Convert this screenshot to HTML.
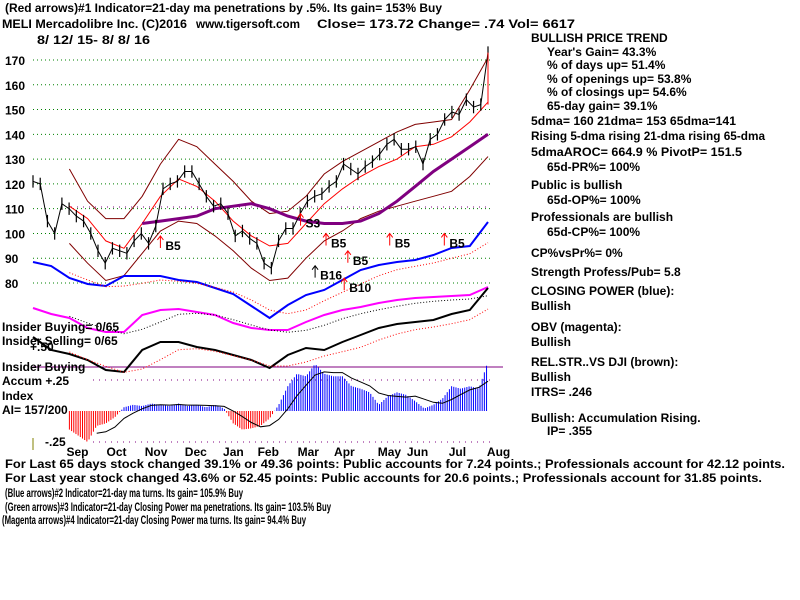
<!DOCTYPE html>
<html><head><meta charset="utf-8"><style>
html,body{margin:0;padding:0;background:#fff;width:800px;height:600px;overflow:hidden}
svg{display:block}
text{font-family:"Liberation Sans",sans-serif;font-weight:bold;font-size:12px;fill:#000}
</style></head><body>
<svg id="chart" width="800" height="600">
<g id="header">
<text x="5" y="12" textLength="437" lengthAdjust="spacingAndGlyphs">(Red arrows)#1 Indicator=21-day ma penetrations by .5%. Its gain= 153% Buy</text>
<text x="2" y="28" textLength="185" lengthAdjust="spacingAndGlyphs">MELI   Mercadolibre Inc.  (C)2016</text>
<text x="196" y="28" textLength="104" lengthAdjust="spacingAndGlyphs">www.tigersoft.com</text>
<text x="317" y="28" textLength="258" lengthAdjust="spacingAndGlyphs">Close=  173.72  Change= .74 Vol= 6617</text>
<text x="37" y="44" textLength="113" lengthAdjust="spacingAndGlyphs">8/ 12/ 15- 8/ 8/ 16</text>
</g>
<g id="grid"></g>
<g id="plot"></g>
<g id="side">
<text x="531" y="42">BULLISH PRICE TREND</text>
<text x="547" y="56">Year's Gain= 43.3%</text>
<text x="547" y="69">% of days up= 51.4%</text>
<text x="547" y="83">% of openings up= 53.8%</text>
<text x="547" y="96">% of closings up= 54.6%</text>
<text x="547" y="110">65-day gain= 39.1%</text>
<text x="531" y="125" textLength="205" lengthAdjust="spacingAndGlyphs">5dma= 160 21dma= 153 65dma=141</text>
<text x="531" y="140" textLength="234" lengthAdjust="spacingAndGlyphs">Rising 5-dma rising 21-dma rising 65-dma</text>
<text x="531" y="156" textLength="211" lengthAdjust="spacingAndGlyphs">5dmaAROC= 664.9 %  PivotP= 151.5</text>
<text x="547" y="171">65d-PR%= 100%</text>
<text x="531" y="189">Public is bullish</text>
<text x="547" y="204">65d-OP%= 100%</text>
<text x="531" y="221">Professionals are bullish</text>
<text x="547" y="236">65d-CP%= 100%</text>
<text x="531" y="257">CP%vsPr%=  0%</text>
<text x="531" y="276">Strength Profess/Pub= 5.8</text>
<text x="531" y="295">CLOSING POWER (blue):</text>
<text x="531" y="310">Bullish</text>
<text x="531" y="331">OBV (magenta):</text>
<text x="531" y="346">Bullish</text>
<text x="531" y="366">REL.STR..VS DJI (brown):</text>
<text x="531" y="381">Bullish</text>
<text x="531" y="396">ITRS= .246</text>
<text x="531" y="422">Bullish: Accumulation Rising.</text>
<text x="547" y="435">IP=  .355</text>
</g>
<g id="footer">
<text x="5" y="468" textLength="780" lengthAdjust="spacingAndGlyphs">For Last 65 days stock changed  39.1% or  49.36 points:  Public accounts for  7.24 points.;  Professionals account for  42.12 points.</text>
<text x="5" y="482" textLength="757" lengthAdjust="spacingAndGlyphs">For Last year stock changed  43.6% or  52.45 points:  Public accounts for  20.6 points.;  Professionals account for  31.85 points.</text>
<text x="5" y="497" textLength="238" lengthAdjust="spacingAndGlyphs">(Blue arrows)#2 Indicator=21-day ma turns. Its gain= 105.9% Buy</text>
<text x="5" y="511" textLength="326" lengthAdjust="spacingAndGlyphs">(Green arrows)#3 Indicator=21-day Closing Power ma penetrations. Its gain= 103.5% Buy</text>
<text x="2" y="524" textLength="304" lengthAdjust="spacingAndGlyphs">(Magenta arrows)#4 Indicator=21-day Closing Power ma turns. Its gain= 94.4% Buy</text>
</g>
</svg>
<script>
const closes=[121,120,105,100,112,110,107,105,100,93,88,94,93,92,97,100,96,103,118,120,121,125,125,120,115,111,112,108,99,101,98,96,88,86,97,102,102,108,113,115,116,119,121,128,126,124,127,129,132,136,138,134,134,135,128,138,140,146,149,148,154,151,152,173];
const gridDays=[0,10,20,30,40,50,60,70,80,90,100,110,120,130,140,150,160,170,180,190,200,210,220,230,240,250];
const upperBand=[null,null,126,113,106,106,115,128,138,135,128,121,113,108,109,115,124,129,133,137,141,144,145,146,158,171];
const lowerBand=[null,null,96,88,81,83,92,101,105,104,99,93,86,81,82,90,97,101,106,109,111,113,115,117,123,131];
const ma21=[null,null,111,106,97,94,104,115,122,119,113,105,99,95,96,104,112,118,123,127,130,135,136,139,145,153];
const ma65=[null,null,null,null,null,null,104,105,106,107,110,111,112,110,107,105,104,104,105,108,113,119,125,130,135,140];
const closingPower=[58,54,42,36,34,44,44,44,40,38,32,26,14,2,15,25,30,40,50,55,58,60,65,72,74,98];
const obv=[32,26,22,12,8,8,25,30,31,28,25,17,12,10,10,18,25,30,33,37,40,42,43,44,45,53];
const relStr=[43,30,26,20,10,8,30,38,38,33,30,25,20,12,25,32,30,38,45,52,56,58,60,66,70,92];
const aiDays=[20,25,30,35,40,45,50,55,60,65,70,75,80,85,90,95,100,105,110,115,120,125,130,135,140,145,150,155,160,165,170,175,180,185,190,195,200,205,210,215,220,225,230,235,240,245,250];
const aiValues=[-.15,-.2,-.25,-.12,-.1,-.05,.03,.05,.04,.06,.05,.04,.06,.04,.05,.03,.05,.02,-.1,-.15,-.14,-.12,-.06,.05,.2,.3,.28,.38,.3,.28,.28,.2,.18,.15,.05,.12,.15,.13,.08,.02,.05,.1,.2,.18,.2,.18,.4];
const priceTicks=[170,160,150,140,130,120,110,100,90,80];
const monthLabels=["Sep","Oct","Nov","Dec","Jan","Feb","Mar","Apr","May","Jun","Jul","Aug"];
const monthDays=[25,47,68,90,111,130,152,172,196,212,235,256];
const signalLabels=["S3","B5","B5","B5","B5","B5","B16","B10"];
const signalDays=[147,70,161,173,196,226,155,171];
const signalPrices=[108,99,100,93,100,100,87,82];

const NS="http://www.w3.org/2000/svg";
const xDay=d=>33+d*455/250;
const xIdx=i=>33+i*455/(closes.length-1);
const yP=p=>60+(170-p)*2.478;
const yCP=v=>320-v, yOBV=v=>340-v, yRS=v=>380-v;
const yAI=v=>411-v*124;
function mk(tag,attrs,parent){const e=document.createElementNS(NS,tag);for(const k in attrs)e.setAttribute(k,attrs[k]);parent.appendChild(e);return e;}
const grid=document.getElementById('grid'), plot=document.getElementById('plot');

priceTicks.forEach(t=>{
  const l=mk('line',{x1:33,x2:490,y1:yP(t),y2:yP(t),stroke:'#008000','stroke-dasharray':'1,3'},grid);
  
  
  const tx=mk('text',{x:5,y:yP(t)+5,'font-size':'13'},grid);
  tx.textContent=t;
  
  
});
[[11,207],[33,380],[33,442]].forEach(([x,y])=>{
  const l=mk('line',{x1:x+60,x2:490,y1:y,y2:y,stroke:'#800080','stroke-dasharray':'1,5'},grid);
  
  
});
const hl=mk('line',{x1:33,x2:503,y1:367,y2:367,stroke:'#800080'},grid);


const yl=mk('line',{x1:33,x2:33,y1:438,y2:450,stroke:'#808000'},grid);



function poly(vals,days,yf,style,name){
  let d='';vals.forEach((v,i)=>{if(v==null)return;d+=(d?'L':'M')+xDay(days[i]).toFixed(1)+','+yf(v).toFixed(1);});
  const p=mk('path',Object.assign({d:d,fill:'none'},style),plot);
  
  
}
poly(upperBand,gridDays,yP,{stroke:'#800000','stroke-width':1},'upper-band');
poly(lowerBand,gridDays,yP,{stroke:'#800000','stroke-width':1},'lower-band');
poly(ma21,gridDays,yP,{stroke:'#ff0000','stroke-width':1},'ma-21-day');
poly(ma65,gridDays,yP,{stroke:'#800080','stroke-width':3},'ma-65-day');
poly(closingPower,gridDays,yCP,{stroke:'#0000ff','stroke-width':2},'closing-power-line');
poly(closingPower.map((v,i)=>i<2?null:(closingPower[i]+closingPower[i-1]+closingPower[i-2])/3-4),gridDays,yCP,{stroke:'#ff0000','stroke-dasharray':'1,2'},'closing-power-ma');
poly(obv,gridDays,yOBV,{stroke:'#ff00ff','stroke-width':2},'obv-line');
poly(obv.map((v,i)=>i<2?null:(obv[i]+obv[i-1]+obv[i-2])/3-3),gridDays,yOBV,{stroke:'#000','stroke-dasharray':'1,2'},'obv-ma');
poly(relStr,gridDays,yRS,{stroke:'#000','stroke-width':2},'relative-strength-line');
poly(relStr.map((v,i)=>i<2?null:(relStr[i]+relStr[i-1]+relStr[i-2])/3-5),gridDays,yRS,{stroke:'#ff0000','stroke-dasharray':'1,2'},'relative-strength-ma');

let pd='';
closes.forEach((c,i)=>{
  const x=xIdx(i);
  const b=mk('line',{x1:x,x2:x,y1:yP(c+2.5),y2:yP(c-2.5),stroke:'#000','stroke-width':1.2},plot);
  
  
  pd+=(i?'L':'M')+x.toFixed(1)+','+yP(c).toFixed(1);
});
const pl=mk('path',{d:pd,fill:'none',stroke:'#000','stroke-width':1},plot);


const spike=mk('line',{x1:xIdx(closes.length-1),x2:xIdx(closes.length-1),y1:yP(152),y2:yP(closes[closes.length-1]),stroke:'#ff0000','stroke-width':1},plot);



for(let d=aiDays[0];d<=aiDays[aiDays.length-1];d+=1.2){
  let k=0;while(k<aiDays.length-2&&aiDays[k+1]<d)k++;
  const t=(d-aiDays[k])/(aiDays[k+1]-aiDays[k]);
  const v=aiValues[k]+(aiValues[k+1]-aiValues[k])*Math.min(1,Math.max(0,t));
  const b=mk('line',{x1:xDay(d),x2:xDay(d),y1:yAI(0),y2:yAI(v),stroke:v<0?'#ff0000':'#0000ff','stroke-width':1},plot);
  
  
}
poly(aiValues.map((v,i)=>i<3?null:(aiValues[i]+aiValues[i-1]+aiValues[i-2]+aiValues[i-3])/4),aiDays,yAI,{stroke:'#000','stroke-width':1},'accum-index-ma');

signalLabels.forEach((s,i)=>{
  const x=xDay(signalDays[i]), y=yP(signalPrices[i]);
  const a=mk('path',{d:`M${x},${y+12}V${y}M${x-3},${y+4}L${x},${y}L${x+3},${y+4}`,stroke:s=='B16'?'#000':'#ff0000',fill:'none'},plot);
  
  
  const t=mk('text',{x:x+5,y:y+14,'font-size':s=='B10'?'16':'13','font-weight':'normal'},plot);
  t.textContent=s;
  
  
});

monthLabels.forEach((m,i)=>{
  const t=mk('text',{x:xDay(monthDays[i])-12,y:456,'font-size':'13'},plot);
  t.textContent=m;
  
  
});
[["Insider Buying= 0/65",2,331],["Insider Selling= 0/65",2,345],["Insider Buying",2,371],["Accum  +.25",2,385],["Index",2,400],["AI= 157/200",2,414],["-.25",45,446],["+.50",30,351]].forEach(([s,x,y])=>{
  const t=mk('text',{x:x,y:y},plot);
  t.textContent=s;
  
  
});
</script>
</body></html>
